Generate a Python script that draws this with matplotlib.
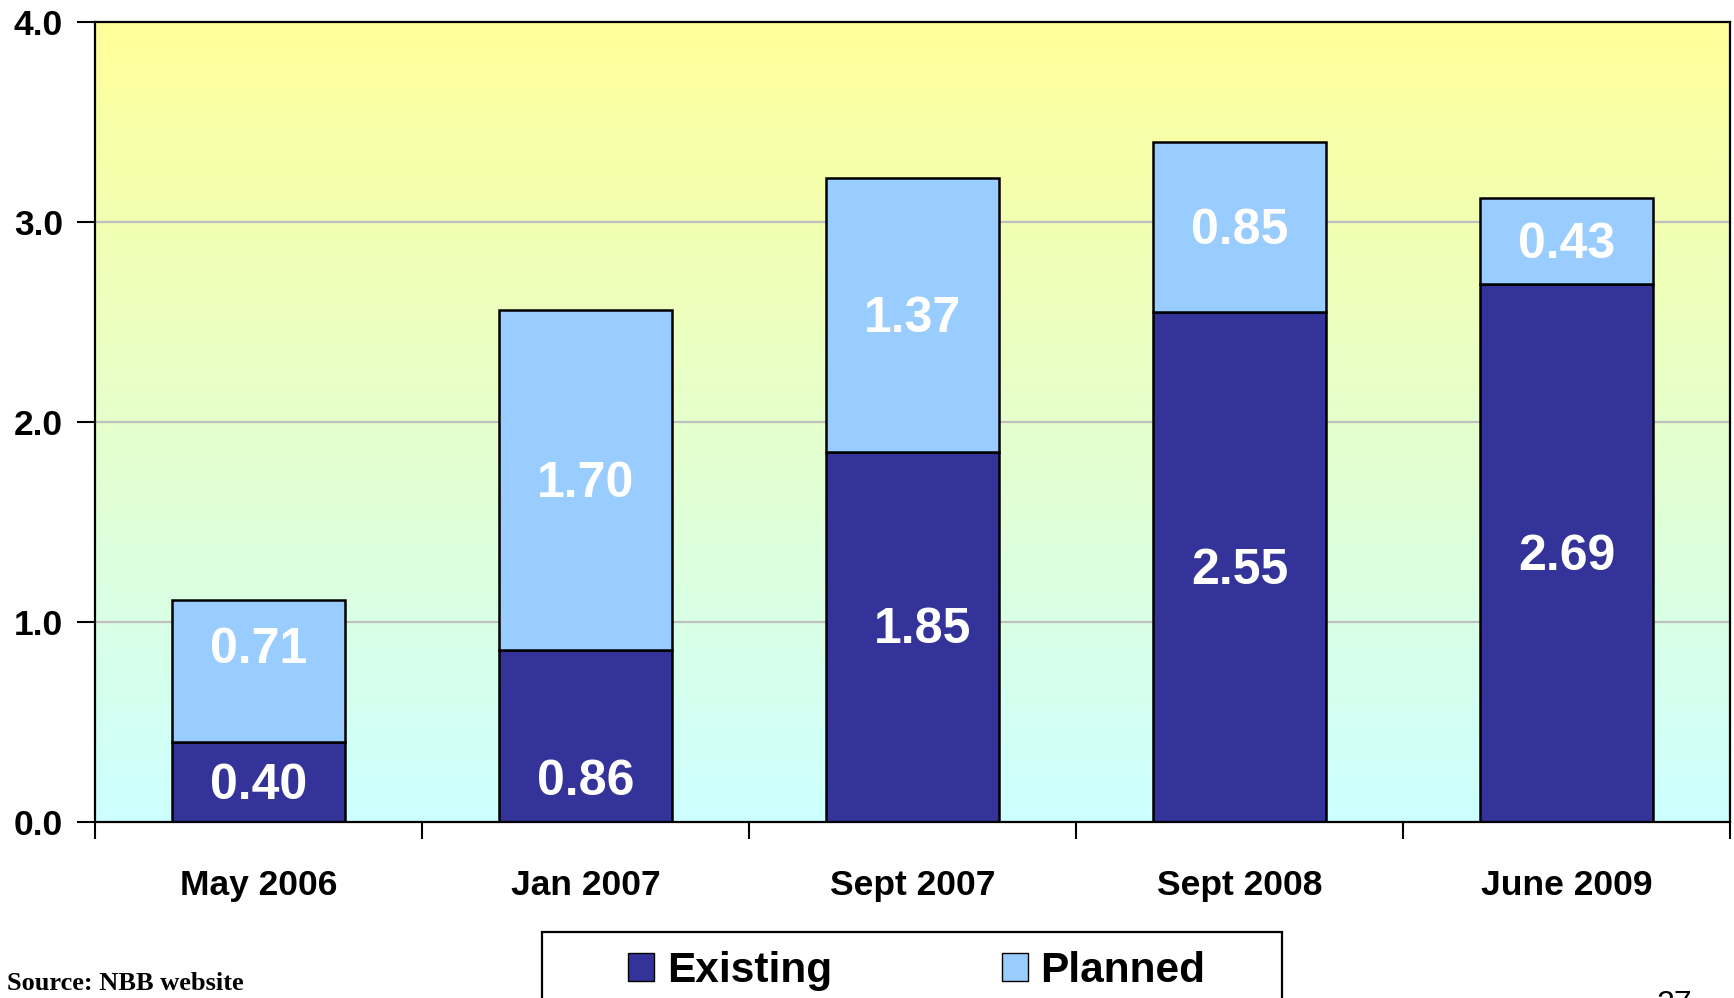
import numpy as np
import matplotlib
matplotlib.use("Agg")
import matplotlib.pyplot as plt
from matplotlib.patches import Patch, Rectangle
from matplotlib.colors import LinearSegmentedColormap

# data
categories = ["May 2006", "Jan 2007", "Sept 2007", "Sept 2008", "June 2009"]
existing = [0.40, 0.86, 1.85, 2.55, 2.69]
planned = [0.71, 1.70, 1.37, 0.85, 0.43]
y_ticks = [0.0, 1.0, 2.0, 3.0, 4.0]

existing_color = "#333399"
planned_color = "#99CCFF"

plt.rcParams['font.family'] = ['Liberation Sans', 'DejaVu Sans']


def main():
    fig = plt.figure(figsize=(17.34, 9.98), dpi=100)
    ax = fig.add_axes([95 / 1734, 1 - 822 / 998, 1635 / 1734, 800 / 998])

    n = len(categories)
    x = np.arange(n)

    # yellow -> light cyan background
    cmap = LinearSegmentedColormap.from_list("bg", ["#CCFFFF", "#FFFF99"])
    grad = np.linspace(0, 1, 256).reshape(-1, 1)
    ax.imshow(grad, cmap=cmap, origin="lower", aspect="auto",
              extent=[-0.5, n - 0.5, 0, 4], zorder=0)

    for yv in y_ticks[1:-1]:
        ax.axhline(yv, color="#BFBFBF", lw=1.6, zorder=1)

    width = 0.53
    ax.bar(x, existing, width, color=existing_color, edgecolor="black",
           linewidth=1.8, zorder=2)
    ax.bar(x, planned, width, bottom=existing, color=planned_color,
           edgecolor="black", linewidth=1.8, zorder=2)

    # label nudges (points) so the labels sit where the original put them
    existing_nudge = [(0, 0), (0, -30), (7, 8), (0, 0), (0, 0)]
    planned_nudge = [(0, 18), (0, 0), (0, 0), (0, 0), (0, 0)]
    label_style = dict(ha="center", va="center", color="white", fontsize=36,
                       fontweight="bold", zorder=3, textcoords="offset points")
    for i in range(n):
        dx, dy = existing_nudge[i]
        ax.annotate(f"{existing[i]:.2f}", (x[i], existing[i] / 2),
                    xytext=(dx, dy - 3), **label_style)
        dx, dy = planned_nudge[i]
        ax.annotate(f"{planned[i]:.2f}", (x[i], existing[i] + planned[i] / 2),
                    xytext=(dx, dy - 3), **label_style)

    ax.set_xlim(-0.5, n - 0.5)
    ax.set_ylim(0, 4)
    ax.set_yticks(y_ticks)
    ax.set_yticklabels([f"{v:.1f}" for v in y_ticks], fontsize=25.5, fontweight="bold")
    ax.set_xticks(x)
    ax.set_xticklabels(categories, fontsize=25.5, fontweight="bold")
    ax.set_xticks(np.arange(n + 1) - 0.5, minor=True)
    ax.tick_params(axis="x", which="major", length=0, pad=34)
    ax.tick_params(axis="x", which="minor", length=12, width=1.5, direction="out")
    ax.tick_params(axis="y", length=13, width=1.5, direction="out", pad=10)
    for sp in ax.spines.values():
        sp.set_linewidth(1.6)
        sp.set_zorder(4)

    # legend box, cut off by the bottom of the page
    fig.patches.append(Rectangle((542 / 1734, -0.05), 740 / 1734, 0.05 + 1 - 932 / 998,
                                 transform=fig.transFigure, facecolor="white",
                                 edgecolor="black", linewidth=1.6))
    handles = [Patch(facecolor=existing_color, edgecolor="black", label="Existing"),
               Patch(facecolor=planned_color, edgecolor="black", label="Planned")]
    fig.legend(handles=handles, loc="center left", ncol=2, frameon=False,
               bbox_to_anchor=(628 / 1734, 1 - 971 / 998), borderaxespad=0,
               borderpad=0, handlelength=0.62, handleheight=0.65,
               handletextpad=0.3, columnspacing=4.0,
               prop={"size": 30.5, "weight": "bold"})

    fig.text(7 / 1734, 1 - 990 / 998, "Source: NBB website", ha="left",
             va="baseline", fontsize=19, fontweight="bold",
             family=["Liberation Serif", "DejaVu Serif"])
    fig.text(1656 / 1734, 1 - 990 / 998, "27", ha="left", va="top", fontsize=23)

    fig.savefig("out.png", dpi=100)


if __name__ == "__main__":
    main()
